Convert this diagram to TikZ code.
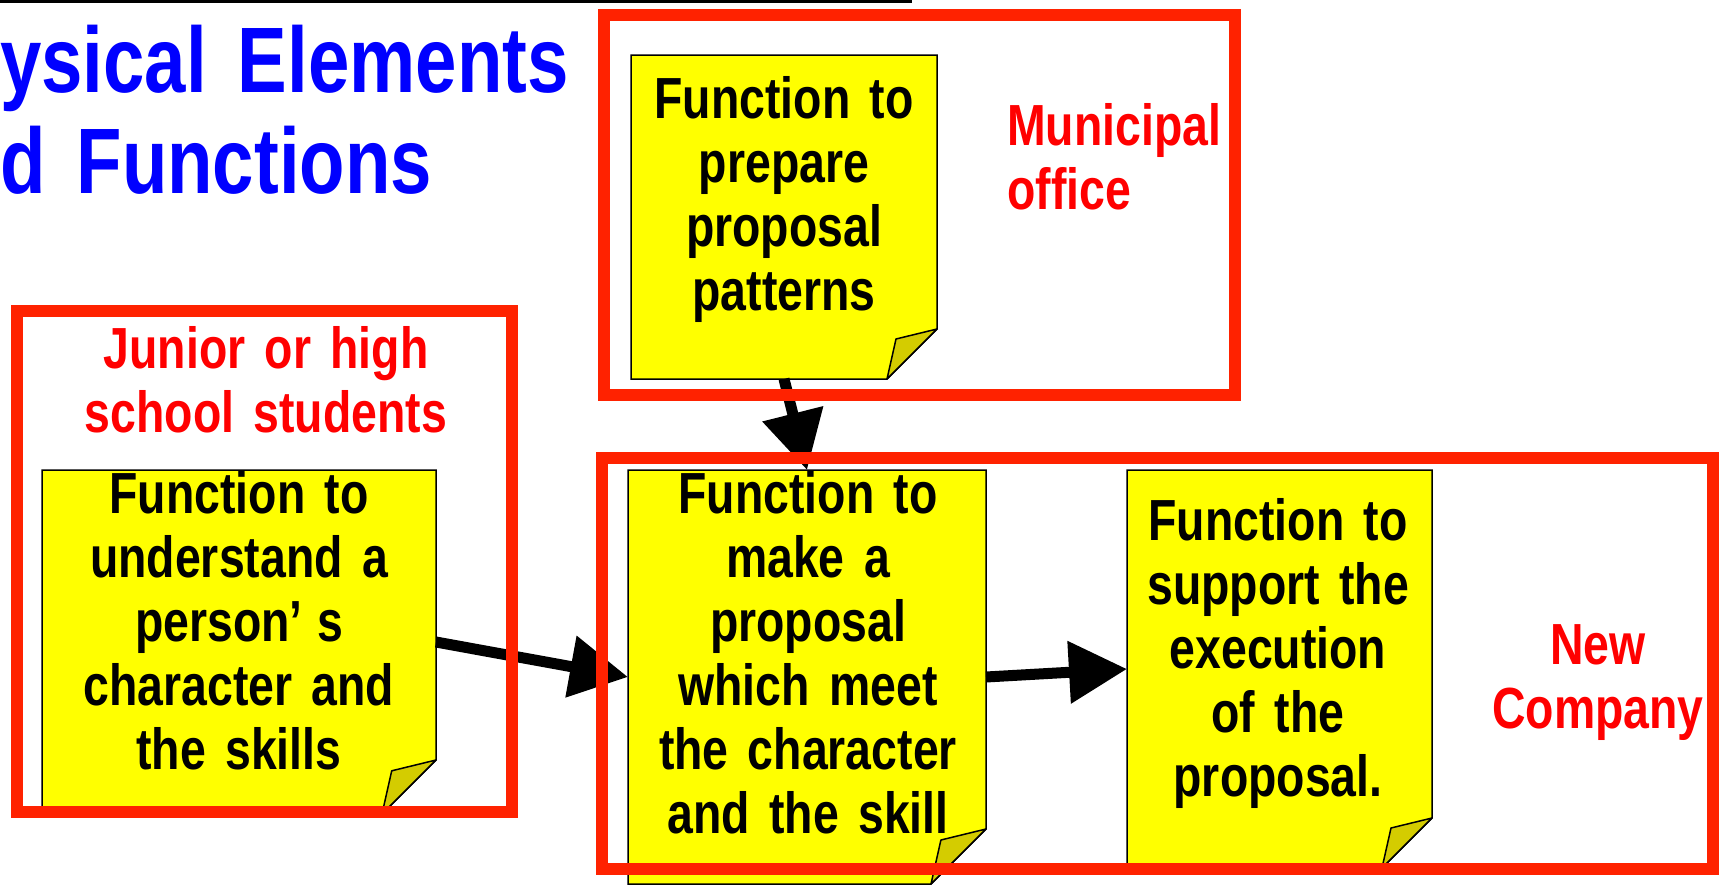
\documentclass[tikz,border=0pt]{standalone}
\usepackage{fontspec}
\setmainfont{Liberation Sans}[FakeStretch=0.80]
\usetikzlibrary{arrows.meta}

\definecolor{boxred}{HTML}{FF2200}
\definecolor{labelred}{HTML}{FF0000}
\definecolor{titleblue}{HTML}{0000FF}
\definecolor{noteyellow}{HTML}{FFFF00}
\definecolor{foldyellow}{HTML}{D4CC00}

\newcommand\notefont{\fontsize{58}{64}\selectfont\bfseries}
\newcommand\titlefont{\fontsize{93}{101}\selectfont\bfseries}

% yellow sticky note with a folded bottom-right corner, drawn from a node's anchors
\newcommand\stickynote[2]{%
  \filldraw[fill=noteyellow, draw=black, line width=1.5pt]
    (#1.north west) -- (#1.north east) -- ([yshift=#2]#1.south east)
    -- ([xshift=-#2]#1.south east) -- (#1.south west) -- cycle;
  \filldraw[fill=foldyellow, draw=black, line width=1.5pt, line join=round]
    ([yshift=#2]#1.south east) -- ([xshift={-0.82*#2}, yshift={0.8*#2}]#1.south east)
    -- ([xshift=-#2]#1.south east) -- cycle;
}

\begin{document}
\begin{tikzpicture}[x=1pt, y=-1pt,
  notebox/.style={rectangle, draw=none, inner sep=0pt, outer sep=0pt},
  notetext/.style={font=\notefont, text width=420pt, align=center, anchor=base, inner sep=0pt},
  grouplabel/.style={font=\notefont, text=labelred, anchor=base, inner sep=0pt},
  regionbox/.style={draw=boxred, line width=12pt},
  flow/.style={line width=11pt, -{Triangle[length=58pt, width=60pt]}}]

\useasboundingbox (0,0) rectangle (1722,886);

% heading
\draw[line width=3pt] (0,1.5) -- (912,1.5);
\node[font=\titlefont, text=titleblue, text width=700pt, align=left, anchor=base west, inner sep=0pt]
  (title) at (0,92) {ysical Elements\\d Functions};

% sticky notes
\node[notebox, minimum width=306pt, minimum height=324pt] (prepare) at (784,217) {};
\node[notebox, minimum width=394pt, minimum height=344pt] (understand) at (239,642) {};
\node[notebox, minimum width=358pt, minimum height=414pt] (propose) at (807,677) {};
\node[notebox, minimum width=305pt, minimum height=398pt] (support) at (1279.5,669) {};
\stickynote{prepare}{50pt}
\stickynote{understand}{54pt}
\stickynote{propose}{55pt}
\stickynote{support}{50pt}

\node[notetext] (prepare-t) at (784,118) {Function to\\prepare\\proposal\\patterns};
\node[notetext] (understand-t) at (239,513) {Function to\\understand a\\person’\kern0.25em s\\character and\\the skills};
\node[notetext] (propose-t) at (808,513) {Function to\\make a\\proposal\\which meet\\the character\\and the skill};
\node[notetext] (support-t) at (1278,540) {Function to\\support the\\execution\\of the\\proposal.};

% group labels
\node[grouplabel, text width=260pt, align=left, anchor=base west] (municipal) at (1007,145) {Municipal\\office};
\node[grouplabel, text width=480pt, align=center] (students) at (266,368) {Junior or high\\school students};
\node[grouplabel, text width=300pt, align=center] (company) at (1598,664) {New\\Company};

% flows
\draw[flow] (prepare.south) -- (propose.north);
\draw[flow] (understand.east) -- (propose.west);
\draw[flow] (propose.east) -- (support.west);

% organisation frames
\draw[regionbox] (604,15) rectangle (1235,395);
\draw[regionbox] (17,311) rectangle (512,812);
\draw[regionbox] (602,458) rectangle (1713,869);

\end{tikzpicture}
\end{document}
